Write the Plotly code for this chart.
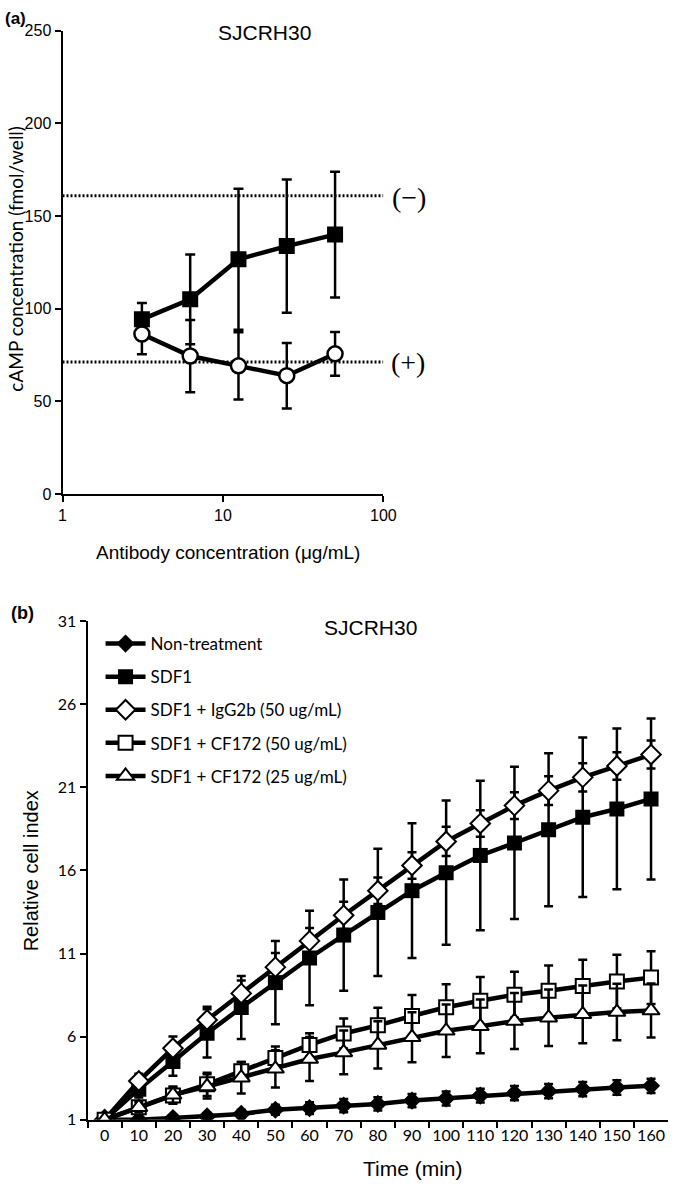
import plotly.graph_objects as go

W, H = 686, 1192

# ---------------- Panel (a) data ----------------
antibody_conc = [3.125, 6.25, 12.5, 25, 50]
camp_sdf1 = [94.3, 105.1, 126.7, 133.8, 140.0]
camp_sdf1_err = [8.8, 24.2, 38.0, 35.9, 33.9]
camp_ab = [86.4, 74.5, 69.2, 63.9, 75.7]
camp_ab_err = [11.0, 19.5, 18.2, 17.7, 11.8]
ref_minus = 161.0
ref_plus = 71.3
a_yticks = [0, 50, 100, 150, 200, 250]
a_xticks = [1, 10, 100]

# ---------------- Panel (b) data ----------------
time_min = [0, 10, 20, 30, 40, 50, 60, 70, 80, 90, 100, 110, 120, 130, 140, 150, 160]
non_treatment = [1.0, 1.0, 1.1, 1.2, 1.35, 1.6, 1.7, 1.85, 1.95, 2.15, 2.28, 2.45, 2.6, 2.72, 2.84, 2.94, 3.04]
non_treatment_err = [0, 0.1, 0.15, 0.2, 0.25, 0.3, 0.35, 0.4, 0.4, 0.4, 0.42, 0.42, 0.43, 0.43, 0.43, 0.43, 0.43]
sdf1 = [1.0, 2.84, 4.5, 6.2, 7.75, 9.25, 10.73, 12.11, 13.47, 14.78, 15.86, 16.9, 17.65, 18.45, 19.2, 19.7, 20.3]
sdf1_err = [0, 0.5, 0.85, 1.45, 1.9, 2.5, 2.84, 3.35, 3.83, 4.05, 4.34, 4.5, 4.58, 4.6, 4.8, 4.84, 4.84]
igg = [1.0, 3.33, 5.3, 7.0, 8.6, 10.18, 11.76, 13.3, 14.78, 16.3, 17.74, 18.82, 19.9, 20.8, 21.6, 22.28, 22.97]
igg_err = [0, 0.43, 0.7, 0.8, 0.78, 0.85, 0.78, 0.82, 0.8, 0.8, 0.88, 0.8, 0.8, 0.86, 0.85, 0.83, 0.84]
cf50 = [1.0, 1.75, 2.46, 3.13, 3.92, 4.71, 5.5, 6.19, 6.68, 7.24, 7.77, 8.16, 8.52, 8.76, 9.05, 9.31, 9.55]
cf50_err = [0, 0.3, 0.5, 0.7, 0.55, 0.7, 0.7, 0.9, 1.05, 1.26, 1.38, 1.42, 1.38, 1.52, 1.58, 1.62, 1.58]
cf25 = [1.0, 1.75, 2.5, 3.0, 3.53, 4.06, 4.65, 5.05, 5.5, 5.96, 6.35, 6.62, 6.94, 7.14, 7.34, 7.48, 7.57]
cf25_err = [0, 0.3, 0.5, 0.73, 0.95, 1.12, 1.32, 1.32, 1.42, 1.5, 1.58, 1.62, 1.68, 1.7, 1.74, 1.7, 1.62]
b_yticks = [1, 6, 11, 16, 21, 26, 31]
series_names = ["Non-treatment", "SDF1", "SDF1 + IgG2b (50 ug/mL)",
                "SDF1 + CF172 (50 ug/mL)", "SDF1 + CF172 (25 ug/mL)"]

ARIAL = "Liberation Sans, Arial, sans-serif"
CALIBRI = "Lato, Carlito, Calibri, sans-serif"
SERIF = "Liberation Serif, Times New Roman, serif"


def px_x(p):
    return p / W


def px_y(p):
    return 1 - p / H


fig = go.Figure()

# ---- Panel (a) ----
for yv in (ref_minus, ref_plus):
    fig.add_trace(go.Scatter(
        x=[a_xticks[0], a_xticks[-1]], y=[yv, yv], mode="lines",
        line=dict(color="black", width=3, dash="2px,2px"),
        showlegend=False, hoverinfo="skip", xaxis="x", yaxis="y"))

fig.add_trace(go.Scatter(
    x=antibody_conc, y=camp_sdf1, mode="lines+markers",
    line=dict(color="black", width=4.5),
    marker=dict(symbol="square", size=16, color="black"),
    error_y=dict(type="data", array=camp_sdf1_err, color="black", thickness=2.5, width=5),
    showlegend=False, xaxis="x", yaxis="y"))

fig.add_trace(go.Scatter(
    x=antibody_conc, y=camp_ab, mode="lines+markers",
    line=dict(color="black", width=4.5),
    marker=dict(symbol="circle", size=15, color="white", line=dict(color="black", width=2.5)),
    error_y=dict(type="data", array=camp_ab_err, color="black", thickness=2.5, width=5),
    showlegend=False, xaxis="x", yaxis="y"))

# ---- Panel (b) ----
tcat = [str(t) for t in time_min]
b_series = [
    (non_treatment, non_treatment_err, dict(symbol="diamond", size=14, color="black")),
    (sdf1, sdf1_err, dict(symbol="square", size=15, color="black")),
    (igg, igg_err, dict(symbol="diamond", size=15, color="white", line=dict(color="black", width=2))),
    (cf50, cf50_err, dict(symbol="square", size=14, color="white", line=dict(color="black", width=2))),
    (cf25, cf25_err, dict(symbol="triangle-up", size=15, color="white", line=dict(color="black", width=2))),
]
for name, (vals, errs, mk) in zip(series_names, b_series):
    fig.add_trace(go.Scatter(
        x=tcat, y=vals, mode="lines+markers", name=name,
        line=dict(color="black", width=4.5), marker=mk,
        error_y=dict(type="data", array=errs, color="black", thickness=2.5, width=4.5),
        legendgroup=name, xaxis="x2", yaxis="y2"))

axis_common = dict(showline=True, linecolor="black", linewidth=2, ticks="outside",
                   tickcolor="black", tickwidth=2, ticklen=6, showgrid=False,
                   zeroline=False, mirror=False)

fig.update_layout(
    width=W, height=H,
    margin=dict(l=0, r=0, t=0, b=0),
    paper_bgcolor="white", plot_bgcolor="white",
    xaxis=dict(type="log", range=[0, 2], tickvals=a_xticks, ticktext=[str(v) for v in a_xticks],
               domain=[px_x(60), px_x(389)], anchor="y",
               tickfont=dict(family=ARIAL, size=16, color="black"),
               **axis_common),
    yaxis=dict(range=[0, 250], tickvals=a_yticks, domain=[px_y(492), px_y(21)], anchor="x",
               tickfont=dict(family=ARIAL, size=16, color="black"),
               **axis_common),
    xaxis2=dict(type="category", range=[-0.5, len(tcat) - 0.5], tickson="boundaries",
                tickangle=0,
                domain=[px_x(85.7), px_x(681)], anchor="y2",
                tickfont=dict(family=CALIBRI, size=16, color="black"),
                **axis_common),
    yaxis2=dict(range=[1, 31], tickvals=b_yticks, domain=[px_y(1127.7), px_y(621)], anchor="x2",
                tickfont=dict(family=CALIBRI, size=16, color="black"),
                **axis_common),
    legend=dict(x=px_x(99), y=px_y(626), xanchor="left", yanchor="top",
                font=dict(family=CALIBRI, size=17, color="black"),
                bgcolor="rgba(0,0,0,0)", tracegroupgap=8, itemwidth=40),
    showlegend=True,
)

annotations = [
    dict(text="SJCRH30", x=px_x(267), y=px_y(23), font=dict(family=ARIAL, size=21, color="black")),
    dict(text="SJCRH30", x=px_x(376), y=px_y(628), font=dict(family=ARIAL, size=21, color="black")),
    dict(text="<b>(a)</b>", x=px_x(12), y=px_y(9), font=dict(family=ARIAL, size=17, color="black")),
    dict(text="<b>(b)</b>", x=px_x(19), y=px_y(613), font=dict(family=ARIAL, size=18, color="black")),
    dict(text="(−)", x=px_x(415), y=px_y(191), font=dict(family=SERIF, size=28, color="black")),
    dict(text="(+)", x=px_x(414), y=px_y(358), font=dict(family=SERIF, size=28, color="black")),
    dict(text="cAMP concentration (fmol/well)", x=px_x(12), y=px_y(253), textangle=-90,
         font=dict(family=CALIBRI, size=19, color="black")),
    dict(text="Antibody concentration (μg/mL)", x=px_x(230), y=px_y(551),
         font=dict(family=ARIAL, size=19, color="black")),
    dict(text="Relative cell index", x=px_x(28), y=px_y(875), textangle=-90,
         font=dict(family=ARIAL, size=20, color="black")),
    dict(text="Time (min)", x=px_x(419), y=px_y(1177),
         font=dict(family=ARIAL, size=21, color="black")),
]
for a in annotations:
    a.update(xref="paper", yref="paper", xanchor="center", yanchor="middle", showarrow=False)
fig.update_layout(annotations=annotations)

fig.write_html("out.html", config={"displayModeBar": False},
               post_script="document.body.style.margin='0';document.body.style.overflow='hidden';")
